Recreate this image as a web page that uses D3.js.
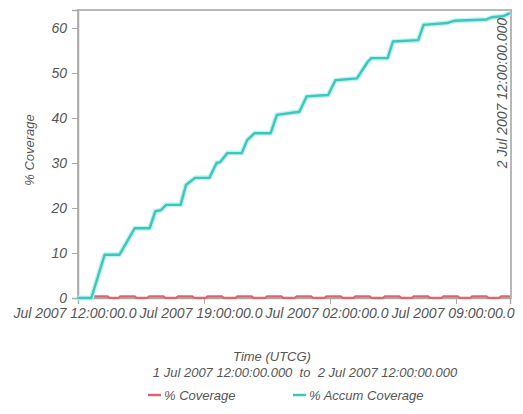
<!DOCTYPE html>
<html><head><meta charset="utf-8">
<script src="https://cdn.jsdelivr.net/npm/d3@7"></script>
<style>
body{margin:0;background:#fff}
text{font-family:"Liberation Sans",Arial,sans-serif;font-style:italic;fill:#555}
</style>
</head><body>
<svg id="c" width="523" height="414"></svg>
<script>
// ---- data ----
const accumHours  = [0,0.74,1.48,2.3,3.15,3.98,4.3,4.6,4.9,5.7,6.0,6.5,7.3,7.7,7.9,8.3,9.1,9.4,9.8,10.7,11.05,12.3,12.7,13.9,14.3,15.5,16.1,16.3,17.2,17.5,18.9,19.2,20.5,20.9,22.7,23.0,23.6,24];
const accumValues = [0,0,9.6,9.6,15.5,15.5,19.3,19.5,20.7,20.7,25.1,26.7,26.7,30,30.2,32.2,32.2,35.1,36.6,36.6,40.7,41.4,44.8,45.1,48.4,48.8,52.5,53.3,53.3,57,57.3,60.7,61.1,61.6,61.9,62.4,62.6,63.3];
const covHours  = [0.75,0.85,1.65,1.75, 2.25,2.35,3.15,3.25, 3.85,3.95,4.75,4.85, 5.45,5.55,6.35,6.45, 7.1,7.2,8.0,8.1, 8.75,8.85,9.65,9.75, 10.4,10.5,11.3,11.4, 12.05,12.15,12.95,13.05, 13.7,13.8,14.6,14.7, 15.3,15.4,16.2,16.3, 16.95,17.05,17.85,17.95, 18.55,18.65,19.45,19.55, 20.2,20.3,21.1,21.2, 21.8,21.9,22.7,22.8, 23.4,23.5,24.0];
const covValues = [0.05,0.35,0.35,0.05, 0.05,0.35,0.35,0.05, 0.05,0.35,0.35,0.05, 0.05,0.35,0.35,0.05, 0.05,0.35,0.35,0.05, 0.05,0.35,0.35,0.05, 0.05,0.35,0.35,0.05, 0.05,0.35,0.35,0.05, 0.05,0.35,0.35,0.05, 0.05,0.35,0.35,0.05, 0.05,0.35,0.35,0.05, 0.05,0.35,0.35,0.05, 0.05,0.35,0.35,0.05, 0.05,0.35,0.35,0.05, 0.05,0.35,0.35];
const yTicks = [0,10,20,30,40,50,60];
const xTickHours = [0,7,14,21];
// full tick labels; the chart only shows the part that fits between ticks
const xTickLabels = ["1 Jul 2007 12:00:00.000","1 Jul 2007 19:00:00.000","2 Jul 2007 02:00:00.000","2 Jul 2007 09:00:00.000"];
const endLabel = "2 Jul 2007 12:00:00.000";
const xTitle = "Time (UTCG)";
const xSubtitle = "1 Jul 2007 12:00:00.000  to  2 Jul 2007 12:00:00.000";
const yTitle = "% Coverage";
const seriesNames = ["% Coverage","% Accum Coverage"];
const seriesColors = ["#e0646e","#3cc6bc"];

// ---- layout ----
const svg = d3.select("#c");
const L=78, R=511, T=10, B=298;
const x = d3.scaleLinear().domain([0,24]).range([L,R-1]);
const y = d3.scaleLinear().domain([0,64]).range([B,T]);
const FONT='"Liberation Sans",Arial,sans-serif';

// frame
svg.append("rect").attr("x",L).attr("y",T).attr("width",R-L).attr("height",B-T)
  .attr("fill","none").attr("stroke","#b8b8b8").attr("stroke-width",2);

// y axis
const ya = svg.append("g").attr("transform",`translate(${L},0)`)
  .call(d3.axisLeft(y).tickValues(yTicks).tickSize(6).tickPadding(5).tickFormat(d3.format("d")));
ya.select(".domain").attr("stroke","#aaa").attr("stroke-width",1.5);
ya.selectAll(".tick line").attr("stroke","#aaa");
ya.selectAll(".tick text").attr("font-size",14).attr("fill","#555").style("font-family",FONT).style("font-style","italic");

// x axis
const xa = svg.append("g").attr("transform",`translate(0,${B})`)
  .call(d3.axisBottom(x).tickValues(xTickHours).tickSize(6).tickPadding(4)
    .tickFormat((d,i)=>xTickLabels[i].slice(2,21)));
xa.select(".domain").attr("stroke","#aaa").attr("stroke-width",1.5);
xa.selectAll(".tick line").attr("stroke","#aaa");
xa.selectAll(".tick text").attr("font-size",14).attr("fill","#555")
  .style("font-family",FONT).style("font-style","italic")
  .attr("text-anchor","start").attr("x",-65);

// lines
const line = d3.line().x(d=>x(d[0])).y(d=>y(d[1]));
svg.append("path").datum(covHours.map((h,i)=>[h,covValues[i]]))
  .attr("d",line).attr("fill","none").attr("stroke",seriesColors[0]).attr("stroke-width",2.2);
svg.append("path").datum(accumHours.map((h,i)=>[h,accumValues[i]]))
  .attr("d",line).attr("fill","none").attr("stroke","#bff3ef").attr("stroke-width",5).attr("stroke-linejoin","round");
svg.append("path").datum(accumHours.map((h,i)=>[h,accumValues[i]]))
  .attr("d",line).attr("fill","none").attr("stroke",seriesColors[1]).attr("stroke-width",2.4).attr("stroke-linejoin","round");

// end label (vertical)
svg.append("text").attr("transform",`translate(507,18) rotate(-90)`)
  .attr("text-anchor","end").attr("font-size",14).attr("fill","#666").text(endLabel);

// titles
svg.append("text").attr("transform",`translate(34,150) rotate(-90)`)
  .attr("text-anchor","middle").attr("font-size",13).text(yTitle);
svg.append("text").attr("x",272).attr("y",361).attr("text-anchor","middle").attr("font-size",13).text(xTitle);
svg.append("text").attr("x",305).attr("y",377).attr("text-anchor","middle").attr("font-size",13).style("white-space","pre").text(xSubtitle);

// legend
const legX=[148,293];
seriesNames.forEach((n,i)=>{
  svg.append("line").attr("x1",legX[i]).attr("x2",legX[i]+13).attr("y1",395).attr("y2",395)
    .attr("stroke",seriesColors[i]).attr("stroke-width",2.5);
  svg.append("text").attr("x",legX[i]+16).attr("y",400).attr("font-size",13).text(n);
});
</script>
</body></html>
